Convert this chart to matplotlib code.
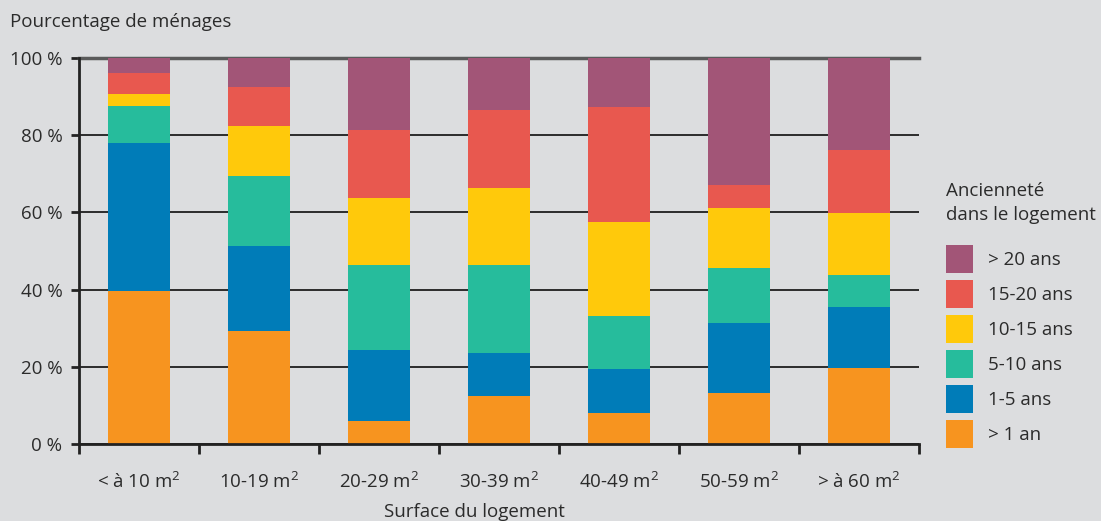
import matplotlib
matplotlib.use("Agg")
import matplotlib.pyplot as plt
import numpy as np

plt.rcParams['font.family'] = ['Open Sans', 'DejaVu Sans']
plt.rcParams['mathtext.default'] = 'regular'

categories = [r"< à 10 m$^{2}$", r"10-19 m$^{2}$", r"20-29 m$^{2}$", r"30-39 m$^{2}$",
              r"40-49 m$^{2}$", r"50-59 m$^{2}$", r"> à 60 m$^{2}$"]
series_names = ["> 1 an", "1-5 ans", "5-10 ans", "10-15 ans", "15-20 ans", "> 20 ans"]
s_lt1 = [39.6, 29.3, 6.0, 12.4, 8.0, 13.2, 19.7]
s_1_5 = [38.4, 22.0, 18.4, 11.2, 11.4, 18.1, 15.8]
s_5_10 = [9.6, 18.1, 22.0, 22.8, 13.8, 14.3, 8.3]
s_10_15 = [3.1, 13.0, 17.3, 19.9, 24.3, 15.5, 16.0]
s_15_20 = [5.4, 10.1, 17.6, 20.2, 29.8, 6.0, 16.4]
s_gt20 = [3.9, 7.5, 18.7, 13.5, 12.7, 32.9, 23.8]
colors = ["#f7941f", "#007cb8", "#26bc9c", "#ffc90b", "#e8584f", "#a25577"]
yticks = [0, 20, 40, 60, 80, 100]
ytick_labels = ["0 %", "20 %", "40 %", "60 %", "80 %", "100 %"]

bg = "#dcdddf"
txt = "#2b2b2b"
fs = 13.5

fig = plt.figure(figsize=(11.01, 5.21), dpi=100, facecolor=bg)
ax = fig.add_axes([79/1101, 77/521, 840/1101, 386/521], facecolor=bg)

x = np.arange(len(categories))
bottom = np.zeros(len(categories))
handles = []
for name, vals, c in zip(series_names, [s_lt1, s_1_5, s_5_10, s_10_15, s_15_20, s_gt20], colors):
    b = ax.bar(x, vals, width=0.52, bottom=bottom, color=c, label=name, linewidth=0, zorder=3)
    handles.append(b)
    bottom += np.array(vals)

ax.set_xlim(-0.5, len(categories) - 0.5)
ax.set_ylim(0, 100)
ax.set_yticks(yticks)
ax.set_yticklabels(ytick_labels)
ax.set_xticks(x)
ax.set_xticklabels(categories)
ax.set_xticks(np.arange(-0.5, len(categories)), minor=True)
ax.tick_params(axis='x', which='major', length=0, pad=20, labelsize=fs, labelcolor=txt)
ax.tick_params(axis='x', which='minor', length=7, width=2, color="#222222", direction='out')
ax.tick_params(axis='y', length=6, width=2, color="#222222", pad=6, labelsize=fs, labelcolor=txt)

ax.yaxis.grid(True, color="#1e1e1e", linewidth=1.3, zorder=1)
ax.set_axisbelow(True)
ax.spines['right'].set_visible(False)
ax.spines['top'].set_color("#5a5a5a")
ax.spines['top'].set_linewidth(2.5)
ax.spines['top'].set_zorder(2)
ax.spines['left'].set_color("#222222")
ax.spines['left'].set_linewidth(2)
ax.spines['bottom'].set_color("#222222")
ax.spines['bottom'].set_linewidth(2)
ax.spines['bottom'].set_zorder(4)

fig.text(10/1101, 1 - 22/521, "Pourcentage de ménages", fontsize=fs, color=txt, va='center', ha='left')
fig.text(474/1101, 1 - 512/521, "Surface du logement", fontsize=fs, color=txt, va='center', ha='center')
fig.text(946/1101, 1 - 203/521, "Ancienneté\ndans le logement", fontsize=fs, color=txt,
         va='center', ha='left', linespacing=1.45)

leg = ax.legend(handles[::-1], series_names[::-1], loc='upper left',
                bbox_to_anchor=(946/1101, 1 - 245/521), bbox_transform=fig.transFigure,
                frameon=False, fontsize=fs, handlelength=1.45, handleheight=1.92,
                handletextpad=0.8, labelspacing=0.37, borderaxespad=0, borderpad=0)
for t in leg.get_texts():
    t.set_color(txt)

fig.savefig("out.png", dpi=100, facecolor=bg)
